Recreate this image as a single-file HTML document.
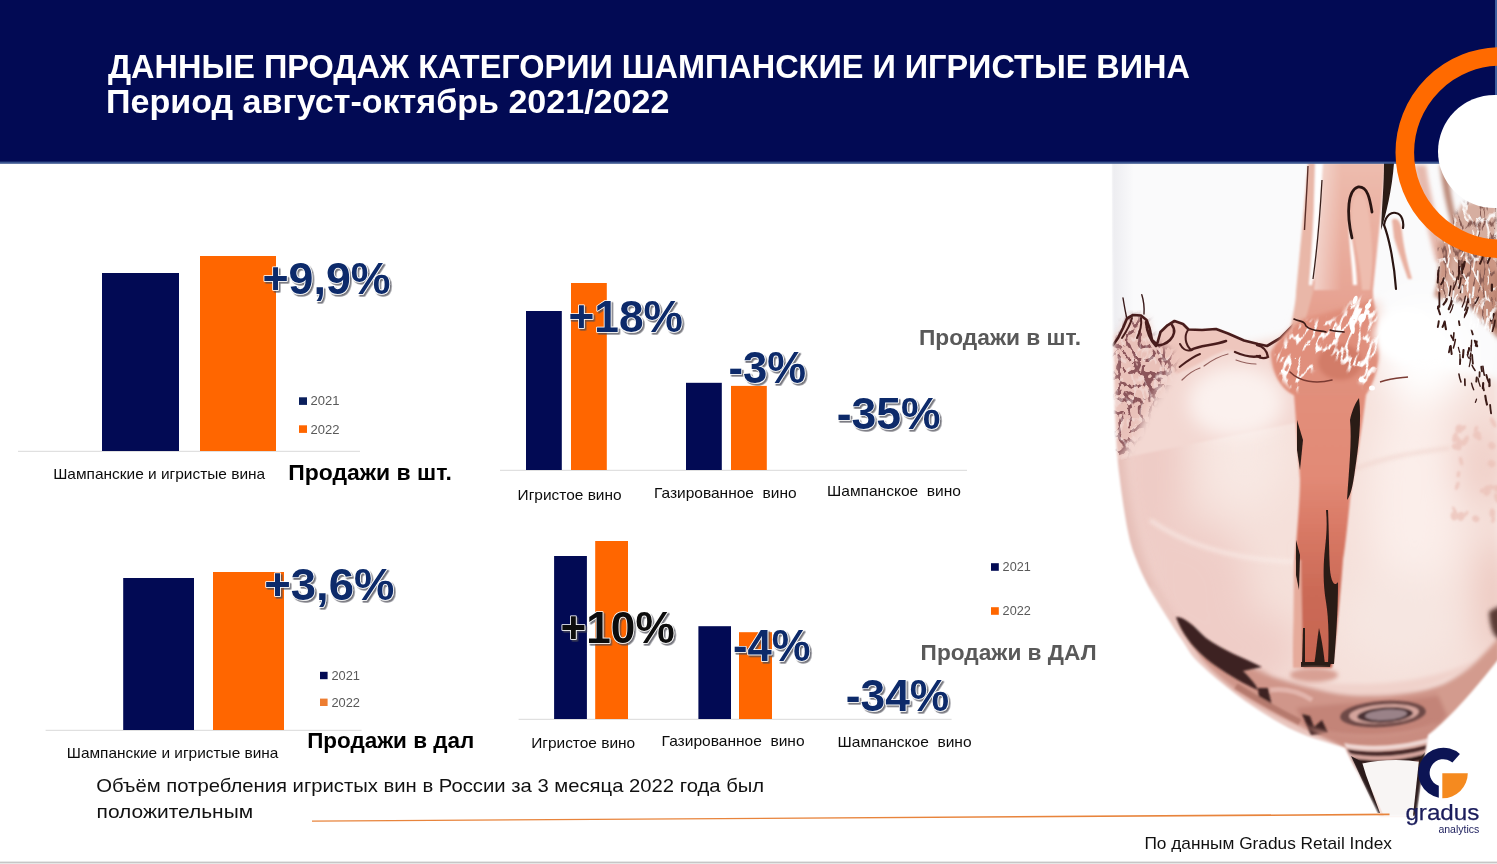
<!DOCTYPE html>
<html lang="ru">
<head>
<meta charset="utf-8">
<title>Данные продаж категории шампанские и игристые вина</title>
<style>
html,body{margin:0;padding:0;background:#fff;}
body{width:1497px;height:864px;overflow:hidden;position:relative;font-family:"Liberation Sans",sans-serif;}
svg{position:absolute;left:0;top:0;display:block;}
text{font-family:"Liberation Sans",sans-serif;}
.b{font-weight:bold;}
.pct{font-weight:bold;font-size:44.5px;fill:#0b2a6b;stroke:#fff;stroke-width:1.6px;paint-order:stroke fill;stroke-linejoin:round;}
.lab{font-size:14.8px;fill:#0c0c0c;white-space:pre;}
.leg{font-size:12.4px;fill:#595959;}
</style>
</head>
<body>
<svg width="1497" height="864" viewBox="0 0 1497 864">
<defs>
  <filter id="sh" x="-10%" y="-20%" width="130%" height="150%">
    <feDropShadow dx="1.6" dy="1.8" stdDeviation="0.7" flood-color="#4a4a55" flood-opacity="0.75"/>
  </filter>
</defs>

<!-- ===== page background ===== -->
<rect x="0" y="0" width="1497" height="864" fill="#ffffff"/>

<!-- ===== GLASS START ===== -->
<g id="glass">
<defs>
  <mask id="gmask" maskUnits="userSpaceOnUse" x="1090" y="140" width="430" height="700"><path d="M1112,163 C1112.2,188.0 1112.5,257.2 1113,300 C1113.5,342.8 1114.2,390.8 1115.3,420 C1116.4,449.2 1117.3,457.0 1119.4,475.5 C1121.5,494.0 1125.0,517.1 1127.8,531 C1130.6,544.9 1132.5,549.7 1136,559 C1139.5,568.3 1143.7,577.5 1148.6,586.7 C1153.5,595.9 1159.5,605.2 1165.3,614.4 C1171.1,623.6 1178.2,634.4 1183.3,642 C1188.4,649.6 1189.4,653.0 1196,660 C1202.6,667.0 1213.3,676.2 1223,684 C1232.7,691.8 1241.8,699.2 1254,707 C1266.2,714.8 1280.8,724.2 1296,731 C1311,738 1330,743 1345,748 L1380,816 L1416,816 L1428,735 C1445,722 1467,698 1485,676 L1497,661 L1510,650 L1510,150 L1112,150 Z" fill="#fff" filter="url(#b1)"/></mask>
  <mask id="mottRm" maskUnits="userSpaceOnUse" x="1420" y="185" width="90" height="180"><path d="M1437,244 L1450,226 L1462,204 L1480,200 L1497,204 L1497,336 L1484,324 L1470,306 L1456,300 L1444,300 L1436,296 L1440,270 Z" fill="#fff" filter="url(#b2)"/></mask>
  <mask id="blobm" maskUnits="userSpaceOnUse" x="1260" y="280" width="140" height="130"><path d="M1276,352 L1290,334 L1304,322 L1340,318 L1352,300 L1372,296 L1380,330 L1378,366 L1366,388 L1350,372 L1330,352 L1310,372 L1296,392 L1282,380 Z" fill="#fff" filter="url(#b2)"/></mask>
  <filter id="turbB" x="0" y="0" width="100%" height="100%" filterUnits="objectBoundingBox">
    <feTurbulence type="turbulence" baseFrequency="0.11 0.04" numOctaves="2" seed="41" result="t"/>
    <feColorMatrix in="t" type="matrix" values="0 0 0 0 1  0 0 0 0 1  0 0 0 0 1  -10 0 0 0 2.1"/>
    <feGaussianBlur stdDeviation="0.5"/>
  </filter>
  <mask id="mottLm" maskUnits="userSpaceOnUse" x="1100" y="300" width="100" height="180"><path d="M1113,345 L1118,338 L1124,326 L1129,317 L1141,316 L1147,321 L1150,332 L1154,343 L1160,346 L1170,352 L1174,362 L1168,378 L1158,392 L1148,408 L1140,424 L1132,440 L1122,456 L1113,462 Z" fill="#fff" filter="url(#b4)"/></mask>
  <filter id="b05" x="-20%" y="-20%" width="140%" height="140%"><feGaussianBlur stdDeviation="0.6"/></filter>
  <filter id="b1" x="-20%" y="-20%" width="140%" height="140%"><feGaussianBlur stdDeviation="1"/></filter>
  <filter id="b2" x="-20%" y="-20%" width="140%" height="140%"><feGaussianBlur stdDeviation="2.2"/></filter>
  <filter id="b4" x="-30%" y="-30%" width="160%" height="160%"><feGaussianBlur stdDeviation="4.5"/></filter>
  <filter id="b8" x="-40%" y="-40%" width="180%" height="180%"><feGaussianBlur stdDeviation="9"/></filter>
  <filter id="b16" x="-50%" y="-50%" width="200%" height="200%"><feGaussianBlur stdDeviation="18"/></filter>
  <filter id="turbL" x="0" y="0" width="100%" height="100%" filterUnits="objectBoundingBox">
    <feTurbulence type="turbulence" baseFrequency="0.1 0.075" numOctaves="2" seed="11" result="t"/>
    <feColorMatrix in="t" type="matrix" values="0 0 0 0 0.26  0 0 0 0 0.09  0 0 0 0 0.10  -13 0 0 0 2.95"/>
    <feGaussianBlur stdDeviation="0.5"/>
  </filter>
  <filter id="turbR" x="0" y="0" width="100%" height="100%" filterUnits="objectBoundingBox">
    <feTurbulence type="turbulence" baseFrequency="0.13 0.04" numOctaves="2" seed="5" result="t"/>
    <feColorMatrix in="t" type="matrix" values="0 0 0 0 0.25  0 0 0 0 0.11  0 0 0 0 0.09  -9 0 0 0 1.7"/>
    <feGaussianBlur stdDeviation="0.5"/>
  </filter>
  <filter id="turbW" x="0" y="0" width="100%" height="100%" filterUnits="objectBoundingBox">
    <feTurbulence type="turbulence" baseFrequency="0.09 0.05" numOctaves="2" seed="23" result="t"/>
    <feColorMatrix in="t" type="matrix" values="0 0 0 0 1  0 0 0 0 1  0 0 0 0 1  -8 0 0 0 1.55"/>
    <feGaussianBlur stdDeviation="0.5"/>
  </filter>
  <linearGradient id="wallL" x1="0" y1="0" x2="1" y2="0"><stop offset="0" stop-color="#ececf0"/><stop offset="1" stop-color="#fafafb"/></linearGradient>
  <linearGradient id="strm" x1="0" y1="0" x2="0" y2="1"><stop offset="0" stop-color="#edbcae"/><stop offset="0.25" stop-color="#e7a595"/><stop offset="0.45" stop-color="#e28f7b"/><stop offset="0.62" stop-color="#e28a76"/><stop offset="0.72" stop-color="#d97a66"/><stop offset="0.85" stop-color="#cb6a56"/><stop offset="1" stop-color="#c66450"/></linearGradient>
  <linearGradient id="strmL" x1="0" y1="0" x2="1" y2="0"><stop offset="0" stop-color="#fff" stop-opacity="0.5"/><stop offset="0.6" stop-color="#fff" stop-opacity="0"/></linearGradient>
</defs>
<g mask="url(#gmask)">
<rect x="1105" y="160" width="400" height="670" fill="#fafafb"/>
<rect x="1112" y="160" width="22" height="180" fill="url(#wallL)"/>
<path d="M1105,335 L1160,340 L1245,344 L1290,335 L1300,310 L1380,300 L1400,360 L1500,380 L1500,830 L1105,830 Z" fill="#f5e0da" filter="url(#b4)"/>
<g filter="url(#b16)">
<ellipse cx="1150" cy="470" rx="34" ry="110" fill="#eecbc5"/>
<ellipse cx="1190" cy="590" rx="60" ry="70" fill="#efcdc7"/>
<ellipse cx="1240" cy="650" rx="60" ry="40" fill="#efcdc7"/>
<ellipse cx="1245" cy="450" rx="40" ry="60" fill="#f8e8e3"/>
<ellipse cx="1415" cy="500" rx="45" ry="120" fill="#fbeeea"/>
<ellipse cx="1425" cy="350" rx="50" ry="50" fill="#ffffff"/>
<ellipse cx="1496" cy="600" rx="16" ry="60" fill="#ebc3ba"/>
<ellipse cx="1480" cy="465" rx="26" ry="40" fill="#f0cfc7"/>
<ellipse cx="1400" cy="620" rx="60" ry="50" fill="#f6e6e1"/>
</g>
<path d="M1113,340 C1113,380 1115,420 1119,470 C1124,515 1134,555 1148,586 C1162,612 1180,640 1196,660 C1205,670 1214,678 1224,685" fill="none" stroke="#e6bfb8" stroke-width="14" filter="url(#b4)"/>
<path d="M1150,520 C1190,548 1240,560 1296,562" fill="none" stroke="#fbf0ec" stroke-width="3" filter="url(#b2)" opacity="0.8"/>
<path d="M1352,470 C1390,455 1420,452 1450,448" fill="none" stroke="#efd2cb" stroke-width="3" filter="url(#b2)" opacity="0.8"/>
<g filter="url(#b2)">
<path d="M1176,616 C1200,645 1235,664 1262,670 C1290,682 1320,692 1350,695 C1380,697 1420,694 1444,684 C1468,672 1486,654 1500,640 L1500,770 L1340,770 C1290,745 1215,705 1176,616 Z" fill="#d0968a"/>
<path d="M1250,668 C1290,684 1330,696 1380,695 C1420,693 1455,680 1480,658 C1445,676 1400,684 1360,684 C1320,684 1290,680 1250,668 Z" fill="#f0d2cb"/>
<path d="M1296,708 C1340,702 1420,702 1468,690 L1440,724 C1400,738 1340,738 1306,728 Z" fill="#c38478"/>
<path d="M1436,690 C1458,680 1478,662 1500,636 L1500,700 L1450,722 Z" fill="#d39b8e"/>
<path d="M1489,612 C1494,608 1500,606 1502,606 L1502,640 C1496,640 1490,632 1489,612 Z" fill="#5a3a34"/>
</g>
<path d="M1150,588 C1166,616 1184,642 1198,661 C1210,674 1222,684 1232,692 C1256,710 1298,732 1347,749" fill="none" stroke="#eccbc4" stroke-width="7" filter="url(#b2)"/>
<g filter="url(#b1)">
<path d="M1176,617 C1184,616 1194,626 1206,638 C1222,650 1244,658 1262,667 L1243,671 C1250,678 1256,684 1258,690 C1240,682 1212,666 1197,650 C1187,640 1180,628 1176,617 Z" fill="#3c2321"/>
<path d="M1258,688 L1268,688 L1272,706 L1259,700 Z" fill="#3c2321"/>
<path d="M1302,714 L1310,716 L1314,727 L1322,720 L1328,733 L1311,735 Z" fill="#3c2321"/>
<path d="M1236,686 C1262,702 1280,712 1300,722" fill="none" stroke="#b5796d" stroke-width="6"/>
<path d="M1270,690 C1285,688 1300,692 1312,700" fill="none" stroke="#e2b4ab" stroke-width="5"/>
</g>
<g filter="url(#b1)" transform="rotate(-4 1383 714)">
<ellipse cx="1383" cy="714" rx="43" ry="13" fill="#6e4846"/>
<ellipse cx="1384" cy="714" rx="35" ry="9.5" fill="#d4a49c"/>
<ellipse cx="1385" cy="715" rx="28" ry="7.5" fill="#4a3236"/>
<ellipse cx="1386" cy="715" rx="21" ry="5.2" fill="#9a8288"/>
</g>
<path d="M1300,724 C1340,740 1400,742 1436,722 L1430,748 L1345,748 Z" fill="#c98c80" filter="url(#b2)"/>
<g filter="url(#b1)">
<path d="M1344,743 C1370,748 1400,746 1429,738 L1428,743 C1400,751 1370,752 1346,748 Z" fill="#eed6d2"/>
<path d="M1347,749 C1372,754 1400,752 1427,745 L1426,750 C1400,757 1374,758 1350,754 Z" fill="#4a2c2c"/>
<path d="M1350,754 C1374,759 1400,757 1426,750 L1425,754 C1400,760 1376,761 1352,758 Z" fill="#d9a9a2"/>
<path d="M1352,758 C1376,762 1400,761 1425,754 L1424,760 C1400,765 1380,766 1355,763 Z" fill="#2a1818"/>
</g>
<path d="M1360,764 C1380,759 1405,759 1420,762 L1413,816 L1384,816 Z" fill="#f8f5f4"/>
<path d="M1346,748 L1352,756 L1379,813 L1376,813 Z" fill="#cfb0ae" filter="url(#b1)"/>
<path d="M1351,756 L1362,762 L1366,775 L1380,813 L1377,813 Z" fill="#2a1a1a"/>
<path d="M1419,760 L1425,752 L1417,816 L1413,816 Z" fill="#2f1e1e"/>
<path d="M1113,345 L1118,338 L1123,328 L1127,318.5 L1133,315 L1141,315.5 L1146.5,320 L1149.5,328 L1152,340 L1157,344.5 L1160.5,332 L1167.5,325.3 L1174.5,321 L1183,324 L1188.5,329.5 L1202,330 L1216,329 L1228,333.5 L1244,340.5 L1258,344 L1267,346 L1280.5,338 L1294.5,324 L1299,315 L1310,330 L1310,420 L1113,460 Z" fill="#f3d8d2" filter="url(#b1)"/>
<ellipse cx="1236" cy="402" rx="48" ry="36" fill="#fbf1ee" filter="url(#b8)"/>
<path d="M1157,345 L1160.5,332 L1167.5,325.3 L1174.5,321 L1183,324 L1188.5,329.5 L1202,330 L1216,329 L1228,333.5 L1244,340.5 L1267,346 L1270,356 L1256,358 L1240,352 L1226,350 L1212,356 L1198,364 L1186,370 L1176,374 L1166,360 Z" fill="#eec6bd" filter="url(#b1)"/>
<g mask="url(#mottLm)">
<rect x="1110" y="310" width="75" height="150" fill="#e9c1b9"/>
<rect x="1110" y="310" width="75" height="150" filter="url(#turbL)"/>
<rect x="1110" y="310" width="75" height="150" filter="url(#turbW)" opacity="0.3"/>
</g>
<path d="M1113,345 L1118,338 L1123,328 L1127,318.5 L1133,315 L1141,315.5 L1146.5,320 L1149.5,328 L1152,340 L1157,344.5 L1160.5,332 L1167.5,325.3 L1174.5,321 L1183,324 L1188.5,329.5 L1202,330 L1216,329 L1228,333.5 L1244,340.5 L1258,344 L1267,346 L1280.5,338 L1294.5,324 L1299,315" fill="none" stroke="#4a1f1e" stroke-width="2.7" stroke-linejoin="round" stroke-linecap="round" filter="url(#b05)"/>
<path d="M1126.5,317 C1125,310 1124,304 1123,298 M1144,314 C1144.5,306 1143.5,300 1141.8,294.7" stroke="#3a1a1a" stroke-width="1.4" fill="none" stroke-linecap="round"/>
<g stroke="#4a1f1e" stroke-width="2" fill="none" stroke-linecap="round" filter="url(#b05)">
<path d="M1188,330 C1184,336 1185,344 1191,350 C1186,352 1182,348 1180,344"/>
<path d="M1191,350 C1200,345 1212,346 1226,341" stroke-width="2.6"/>
<path d="M1179.6,367 C1186,362 1192,357 1200,354"/>
<path d="M1235,352 C1244,356 1252,358 1260,356" stroke-width="2.4"/>
<path d="M1257,345 C1262,346 1267,350 1268,357 C1264,359 1260,358 1257,356" stroke-width="2.4"/>
<path d="M1172,325 C1176,330 1174,336 1170,340 C1166,344 1160,346 1157,345" stroke-width="2.6"/>
<path d="M1132,318 C1130,326 1126,332 1122,338"/>
<path d="M1141,318 C1142,326 1140,332 1137,338"/>
<path d="M1146,322 C1147,332 1150,340 1156,346" stroke-width="2.6"/>
</g>
<g stroke="#7a3f3c" stroke-width="1.2" fill="none" stroke-linecap="round" filter="url(#b05)" opacity="0.8">
<path d="M1204,366 C1212,360 1220,356 1228,354"/>
<path d="M1182,380 C1188,374 1194,370 1200,368"/>
<path d="M1236,360 C1244,363 1250,364 1256,364"/>
</g>
<g filter="url(#b1)">
<path d="M1323,163 L1385,163 C1383,200 1377,250 1373,290 C1373,310 1378,330 1378,350 C1378,372 1370,388 1366,395 C1362,430 1356,462 1351,490 C1348,520 1345,550 1343,560 C1340,600 1336,640 1332,668 L1293,668 C1294,620 1295,590 1295,560 C1297,530 1300,500 1300,480 C1298,450 1296,420 1294,395 C1280,388 1272,372 1272,352 C1280,338 1292,326 1300,318 C1306,300 1310,290 1314,279 C1318,240 1321,200 1323,163 Z" fill="url(#strm)"/>
<path d="M1323,163 L1360,163 L1352,290 L1314,290 C1318,240 1321,200 1323,163 Z" fill="url(#strmL)"/>
<path d="M1294,560 L1301,560 L1303,668 L1293,668 Z" fill="#e6ab9b"/>
<path d="M1308,163 L1315,163 C1314,200 1313,250 1313,292 L1306,318 L1290,332 C1294,310 1296,300 1296,292 C1300,250 1305,200 1308,163 Z" fill="#e9b7a8"/>
<path d="M1316,165 L1322,165 C1320,200 1316,250 1312,285 L1309,285 C1312,250 1315,200 1316,165 Z" fill="#ffffff"/>
</g>
<g filter="url(#b2)">
<path d="M1271,352 C1278,340 1292,326 1302,320 L1372,300 C1380,320 1382,345 1376,370 C1372,385 1366,392 1360,394 L1296,394 C1282,388 1272,372 1271,352 Z" fill="#e08f7b"/>
<ellipse cx="1340" cy="362" rx="22" ry="18" fill="#d27c68"/>
</g>
<g mask="url(#blobm)">
<rect x="1240" y="270" width="170" height="150" filter="url(#turbB)" transform="rotate(22 1325 345)"/>
</g>
<g fill="#ffffff" filter="url(#b05)">
<ellipse cx="1338" cy="332" rx="2.5" ry="7.0" transform="rotate(15 1338 332)"/>
<ellipse cx="1352" cy="326" rx="2.5" ry="8.0" transform="rotate(-10 1352 326)"/>
<ellipse cx="1362" cy="318" rx="3.5" ry="4.5" transform="rotate(30 1362 318)"/>
<ellipse cx="1368" cy="306" rx="2.5" ry="3.5" transform="rotate(40 1368 306)"/>
<ellipse cx="1362" cy="380" rx="3.5" ry="2.5" transform="rotate(20 1362 380)"/>
<ellipse cx="1372" cy="388" rx="3.0" ry="2.5" transform="rotate(0 1372 388)"/>
<ellipse cx="1284" cy="372" rx="3.5" ry="1.75" transform="rotate(30 1284 372)"/>
<ellipse cx="1355" cy="300" rx="2.0" ry="4.5" transform="rotate(20 1355 300)"/>
</g>
<path d="M1294,319 C1300,322 1304,320 1306,326 C1312,332 1320,330 1326,332 M1330,330 C1336,332 1340,331 1344,332" fill="none" stroke="#3a1a18" stroke-width="1.6" stroke-linecap="round" filter="url(#b05)"/>
<path d="M1290,372 C1300,382 1316,384 1332,380" fill="none" stroke="#7a3a32" stroke-width="1.6" stroke-linecap="round" filter="url(#b05)"/>
<ellipse cx="1405" cy="335" rx="32" ry="26" fill="#ffffff" filter="url(#b4)"/>
<path d="M1380,382 C1392,378 1400,378 1408,377" fill="none" stroke="#7a3a32" stroke-width="1.4" filter="url(#b05)"/>
<g filter="url(#b05)" fill="#2c1a17">
<path d="M1384,163 L1394,163 C1392,190 1386,215 1381,230 C1382,205 1384,185 1384,163 Z"/>
<path d="M1359,398 C1362,420 1358,450 1355,470 C1353,485 1351,495 1347,500 C1349,470 1352,440 1350,420 C1352,410 1356,402 1359,398 Z"/>
<path d="M1297,420 L1303,440 L1300,470 L1297,450 Z"/>
<path d="M1296,540 L1300,555 L1299,590 L1296,575 Z"/>
<path d="M1326,510 C1328,530 1325,545 1324,560 C1323,575 1324,590 1326,602 C1329,620 1329,645 1328,664 L1334,664 C1336,640 1338,610 1338,582 C1334,588 1331,580 1330,570 C1329,555 1329,530 1328,510 Z"/>
<path d="M1303,628 L1305,628 L1305,664 L1302,664 Z"/>
<path d="M1319,628 C1322,640 1324,655 1325,665 L1314,665 C1316,655 1317,640 1319,628 Z"/>
<path d="M1301,662 L1331,662 L1330,667 L1301,667 Z"/>
</g>
<path d="M1322,180 C1320,215 1317,250 1313,279" fill="none" stroke="#3a201c" stroke-width="1.3"/>
<path d="M1308,166 C1307,190 1305.5,210 1304.5,230" fill="none" stroke="#5a2e28" stroke-width="1.4"/>
<path d="M1355,196 C1360,190 1366,196 1368,210 C1372,235 1374,260 1370,290 L1362,290 C1360,260 1354,240 1352,225 C1351,212 1352,202 1355,196 Z" fill="#eebdaf" filter="url(#b1)"/>
<path d="M1349,215 C1350,235 1356,255 1357,285 L1353,285 C1352,260 1348,240 1349,215 Z" fill="#ffffff" filter="url(#b1)"/>
<path d="M1392,220 C1397,216 1401,222 1402,232 C1404,250 1408,265 1412,279 L1408,279 C1404,268 1398,250 1394,238 Z" fill="#e9b0a0" filter="url(#b1)"/>
<g fill="none" stroke="#2a1512" stroke-width="2.2" stroke-linecap="round">
<path d="M1352,238 C1346,212 1348,190 1358,187 C1368,186 1370,200 1372,212" stroke-width="2.8"/>
<path d="M1396,289 C1394,260 1388,235 1384,225 C1386,214 1392,212 1396,213 C1402,214 1404,222 1403,228"/>
</g>
<ellipse cx="1314" cy="675" rx="24" ry="7" fill="#d8a094" filter="url(#b2)"/>
<g filter="url(#b2)">
<path d="M1456,240 C1470,243 1485,250 1500,256 L1500,326 C1488,322 1476,312 1468,300 C1460,288 1456,262 1456,240 Z" fill="#d3a08e"/>
<path d="M1478,262 C1486,266 1492,270 1500,272 L1500,340 C1490,330 1482,305 1478,262 Z" fill="#ad735f"/>
<path d="M1438,244 C1444,243 1450,243 1455,245 C1452,262 1448,280 1440,298 L1434,296 C1440,280 1440,262 1438,244 Z" fill="#cf9c8c"/>
<path d="M1414,165 C1418,190 1428,230 1436,262 L1446,262 C1440,230 1430,195 1426,165 Z" fill="#e6b9ad"/>
<path d="M1440,165 C1442,185 1446,205 1452,226 L1458,224 C1452,204 1449,185 1448,165 Z" fill="#b98573"/>
</g>
<g mask="url(#mottRm)">
<rect x="1425" y="190" width="75" height="155" fill="#c99482" opacity="0.75"/>
<rect x="1425" y="190" width="75" height="155" filter="url(#turbR)"/>
<rect x="1425" y="190" width="75" height="155" filter="url(#turbW)" opacity="0.85"/>
</g>
<g stroke="#3a1a16" fill="none" stroke-linecap="round" filter="url(#b05)">
<path d="M1465.5,296.0 q-0.7,5.5 -3.4,11.0" stroke-width="1.2"/>
<path d="M1459.5,266.8 q-0.2,6.1 -1.2,12.3" stroke-width="1.9"/>
<path d="M1470.5,296.3 q-0.4,3.2 -2.2,6.3" stroke-width="1.4"/>
<path d="M1491.4,250.5 q-0.7,6.2 -3.7,12.4" stroke-width="2.0"/>
<path d="M1457.2,276.8 q-0.8,6.3 -3.9,12.6" stroke-width="1.3"/>
<path d="M1491.9,284.7 q-0.0,2.9 -0.1,5.8" stroke-width="2.3"/>
<path d="M1443.8,278.2 q-0.5,3.1 -2.7,6.2" stroke-width="1.9"/>
<path d="M1446.8,299.0 q-0.7,2.7 -3.3,5.5" stroke-width="2.2"/>
<path d="M1461.0,277.8 q-0.4,5.2 -2.1,10.4" stroke-width="1.7"/>
<path d="M1495.0,320.2 q-0.5,5.5 -2.6,11.0" stroke-width="1.6"/>
<path d="M1478.4,297.2 q-0.6,3.0 -3.1,6.0" stroke-width="1.6"/>
<path d="M1467.7,307.6 q-0.8,4.8 -3.9,9.5" stroke-width="2.2"/>
<path d="M1462.8,285.4 q-0.5,3.5 -2.3,7.0" stroke-width="1.7"/>
<path d="M1483.3,253.8 q-0.7,5.0 -3.3,9.9" stroke-width="2.0"/>
<path d="M1439.2,267.0 q-0.3,4.0 -1.5,8.1" stroke-width="1.3"/>
<path d="M1464.6,261.9 q-0.4,3.8 -2.1,7.5" stroke-width="2.4"/>
<path d="M1458.9,260.4 q-0.1,5.9 -0.4,11.7" stroke-width="1.2"/>
<path d="M1453.1,304.6 q-0.6,4.0 -3.0,8.1" stroke-width="1.2"/>
<path d="M1439.4,293.0 q-0.0,6.9 -0.0,13.9" stroke-width="1.8"/>
<path d="M1438.4,270.5 q-0.1,6.0 -0.7,12.1" stroke-width="2.0"/>
<path d="M1450.8,286.1 q-0.3,4.6 -1.5,9.3" stroke-width="1.5"/>
<path d="M1493.8,314.0 q-0.6,3.2 -2.8,6.5" stroke-width="2.2"/>
<path d="M1467.9,298.9 q-0.6,5.7 -3.1,11.3" stroke-width="1.5"/>
<path d="M1452.3,297.9 q-0.7,5.6 -3.5,11.2" stroke-width="2.3"/>
<path d="M1462.2,264.3 q-0.0,4.5 -0.1,8.9" stroke-width="1.9"/>
<path d="M1489.4,380.0 q-0.1,3.2 -0.3,6.5" stroke-width="1.5"/>
<path d="M1486.3,374.9 q0.8,3.6 2.5,7.3" stroke-width="2.0"/>
<path d="M1483.2,383.1 q-0.1,2.6 -0.4,5.1" stroke-width="2.1"/>
<path d="M1483.2,386.6 q0.2,1.9 0.7,3.7" stroke-width="1.9"/>
<path d="M1458.4,347.5 q0.4,2.5 1.4,4.9" stroke-width="1.3"/>
<path d="M1444.7,321.6 q0.4,3.8 1.3,7.6" stroke-width="2.1"/>
<path d="M1450.0,346.6 q-0.3,2.8 -1.1,5.7" stroke-width="1.8"/>
<path d="M1455.4,339.4 q-0.6,4.3 -2.0,8.7" stroke-width="1.5"/>
<path d="M1451.0,335.4 q0.8,2.2 2.6,4.3" stroke-width="1.7"/>
<path d="M1471.5,383.2 q0.7,3.3 2.2,6.6" stroke-width="1.4"/>
<path d="M1481.3,366.8 q0.2,2.2 0.7,4.4" stroke-width="1.9"/>
<path d="M1472.1,354.8 q0.2,4.4 0.8,8.8" stroke-width="1.8"/>
<path d="M1471.6,340.2 q-0.1,3.0 -0.2,6.0" stroke-width="1.4"/>
<path d="M1444.3,322.5 q-0.5,2.3 -1.8,4.5" stroke-width="2.0"/>
<path d="M1474.8,340.8 q0.7,2.7 2.4,5.3" stroke-width="2.1"/>
<path d="M1450.7,345.9 q0.3,4.0 1.0,8.1" stroke-width="2.0"/>
<path d="M1471.2,345.6 q-0.0,2.7 -0.1,5.4" stroke-width="1.5"/>
<path d="M1476.6,341.5 q-0.2,2.1 -0.7,4.2" stroke-width="2.2"/>
<path d="M1458.9,373.9 q0.6,4.1 2.1,8.2" stroke-width="1.5"/>
<path d="M1478.0,378.1 q0.6,4.1 2.2,8.2" stroke-width="1.3"/>
<path d="M1476.5,399.2 q-0.3,1.5 -1.1,3.1" stroke-width="1.3"/>
<path d="M1476.7,377.5 q-0.1,2.1 -0.4,4.1" stroke-width="2.0"/>
<path d="M1464.8,379.1 q0.1,3.1 0.2,6.2" stroke-width="1.7"/>
<path d="M1489.5,379.1 q0.1,3.4 0.3,6.8" stroke-width="1.8"/>
<path d="M1463.5,350.0 q-0.2,3.6 -0.6,7.3" stroke-width="2.1"/>
<path d="M1482.9,366.4 q0.4,4.4 1.4,8.7" stroke-width="1.6"/>
<path d="M1470.6,358.6 q-0.4,4.0 -1.4,8.0" stroke-width="1.2"/>
<path d="M1438.3,305.7 q-0.2,1.5 -0.8,3.1" stroke-width="1.2"/>
<path d="M1485.3,395.8 q0.5,4.4 1.7,8.8" stroke-width="2.1"/>
<path d="M1438.8,321.1 q-0.3,2.9 -1.0,5.9" stroke-width="1.9"/>
<path d="M1469.4,348.3 q-0.5,2.2 -1.6,4.5" stroke-width="1.8"/>
<path d="M1490.1,404.9 q0.3,4.3 1.0,8.5" stroke-width="1.8"/>
<path d="M1438.0,306.9 q0.6,3.7 2.1,7.4" stroke-width="1.9"/>
<path d="M1459.9,354.2 q0.1,4.5 0.4,8.9" stroke-width="1.3"/>
<path d="M1479.6,372.1 q-0.0,2.2 -0.1,4.4" stroke-width="1.8"/>
<path d="M1453.9,332.9 q-0.2,3.7 -0.7,7.5" stroke-width="1.6"/>
<path d="M1458.9,321.2 q0.2,2.0 0.7,4.0" stroke-width="1.8"/>
<path d="M1472.1,365.3 q0.9,2.6 3.0,5.1" stroke-width="1.5"/>
<path d="M1470.8,353.1 q-0.3,2.7 -1.0,5.4" stroke-width="1.5"/>
<path d="M1460.3,359.4 q-0.1,2.4 -0.3,4.8" stroke-width="1.8"/>
<path d="M1467.2,354.6 q0.4,1.7 1.4,3.4" stroke-width="1.2"/>
<path d="M1468.9,347.7 q-0.3,3.5 -1.1,7.0" stroke-width="1.6"/>
<path d="M1471.6,330.2 q0.4,2.1 1.2,4.2" stroke-width="1.8"/>
</g>
<g stroke="#ffffff" fill="none" stroke-linecap="round" filter="url(#b05)" opacity="0.9">
<path d="M1473.6,287.3 q-0.2,4.9 -1.2,9.8" stroke-width="2.1"/>
<path d="M1462.3,286.2 q-0.0,3.1 -0.1,6.2" stroke-width="1.9"/>
<path d="M1453.6,291.1 q-0.2,4.2 -1.0,8.4" stroke-width="1.8"/>
<path d="M1475.1,306.6 q-0.4,3.1 -1.8,6.1" stroke-width="1.0"/>
<path d="M1490.7,312.8 q0.2,3.2 0.9,6.3" stroke-width="2.1"/>
<path d="M1448.6,316.6 q-0.3,3.3 -1.7,6.5" stroke-width="1.3"/>
<path d="M1463.6,252.2 q-0.5,2.2 -2.5,4.3" stroke-width="1.4"/>
<path d="M1449.0,258.0 q-0.3,4.5 -1.5,9.0" stroke-width="1.6"/>
<path d="M1474.3,324.5 q-0.4,2.4 -2.1,4.9" stroke-width="2.0"/>
<path d="M1491.9,324.4 q-0.3,3.6 -1.5,7.2" stroke-width="1.2"/>
<path d="M1491.9,310.8 q0.0,3.7 0.2,7.3" stroke-width="1.3"/>
<path d="M1470.4,322.3 q-0.1,2.3 -0.5,4.7" stroke-width="1.2"/>
<path d="M1487.8,316.8 q-0.3,3.9 -1.3,7.9" stroke-width="1.0"/>
<path d="M1468.2,277.5 q-0.5,3.2 -2.7,6.4" stroke-width="2.1"/>
<path d="M1469.8,294.1 q0.1,4.5 0.6,9.1" stroke-width="1.7"/>
<path d="M1471.0,317.5 q0.1,3.1 0.6,6.2" stroke-width="1.0"/>
<path d="M1485.4,291.3 q0.2,3.9 1.0,7.7" stroke-width="1.3"/>
<path d="M1463.2,313.6 q-0.2,4.2 -0.9,8.5" stroke-width="1.9"/>
<path d="M1478.6,319.3 q-0.3,4.0 -1.5,7.9" stroke-width="1.3"/>
<path d="M1444.7,258.1 q0.2,2.1 0.9,4.3" stroke-width="1.2"/>
<path d="M1474.4,259.0 q-0.2,4.9 -0.9,9.8" stroke-width="1.2"/>
<path d="M1487.1,318.5 q-0.4,4.9 -2.1,9.9" stroke-width="1.5"/>
<path d="M1477.7,271.2 q-0.0,3.7 -0.2,7.4" stroke-width="1.9"/>
<path d="M1487.0,309.6 q0.0,2.9 0.0,5.7" stroke-width="1.5"/>
<path d="M1449.7,249.7 q-0.3,3.9 -1.6,7.7" stroke-width="1.1"/>
<path d="M1467.9,282.0 q-0.1,3.0 -0.7,6.0" stroke-width="1.6"/>
</g>
<g fill="#ecc3ba" filter="url(#b1)" opacity="0.8">
<ellipse cx="1475.8" cy="518.7" rx="3.8" ry="3.2" transform="rotate(30 1475.8 518.7)"/>
<ellipse cx="1466.2" cy="513.7" rx="1.6" ry="3.3" transform="rotate(35 1466.2 513.7)"/>
<ellipse cx="1481.8" cy="490.6" rx="2.0" ry="2.5" transform="rotate(37 1481.8 490.6)"/>
<ellipse cx="1455.0" cy="437.5" rx="2.6" ry="5.3" transform="rotate(14 1455.0 437.5)"/>
<ellipse cx="1496.9" cy="497.9" rx="2.6" ry="5.6" transform="rotate(-15 1496.9 497.9)"/>
<ellipse cx="1454.3" cy="515.9" rx="3.7" ry="4.6" transform="rotate(-2 1454.3 515.9)"/>
<ellipse cx="1461.2" cy="441.9" rx="1.7" ry="2.4" transform="rotate(-2 1461.2 441.9)"/>
<ellipse cx="1492.3" cy="513.2" rx="2.8" ry="4.7" transform="rotate(-3 1492.3 513.2)"/>
<ellipse cx="1486.9" cy="490.6" rx="4.0" ry="5.4" transform="rotate(14 1486.9 490.6)"/>
<ellipse cx="1478.6" cy="436.9" rx="2.7" ry="3.8" transform="rotate(-28 1478.6 436.9)"/>
<ellipse cx="1461.1" cy="461.1" rx="1.9" ry="4.5" transform="rotate(-14 1461.1 461.1)"/>
<ellipse cx="1496.5" cy="488.4" rx="2.8" ry="3.7" transform="rotate(-9 1496.5 488.4)"/>
<ellipse cx="1461.0" cy="516.3" rx="3.8" ry="4.6" transform="rotate(12 1461.0 516.3)"/>
<ellipse cx="1458.5" cy="474.2" rx="1.9" ry="3.3" transform="rotate(7 1458.5 474.2)"/>
<ellipse cx="1459.7" cy="443.3" rx="3.3" ry="3.9" transform="rotate(31 1459.7 443.3)"/>
<ellipse cx="1459.2" cy="428.9" rx="3.8" ry="4.4" transform="rotate(15 1459.2 428.9)"/>
<ellipse cx="1477.0" cy="434.9" rx="3.9" ry="4.0" transform="rotate(33 1477.0 434.9)"/>
<ellipse cx="1458.6" cy="447.5" rx="2.9" ry="3.0" transform="rotate(29 1458.6 447.5)"/>
<ellipse cx="1463.7" cy="427.9" rx="1.9" ry="3.1" transform="rotate(36 1463.7 427.9)"/>
<ellipse cx="1491.5" cy="487.0" rx="2.6" ry="2.2" transform="rotate(27 1491.5 487.0)"/>
<ellipse cx="1457.7" cy="440.0" rx="2.6" ry="5.4" transform="rotate(-25 1457.7 440.0)"/>
<ellipse cx="1454.8" cy="510.7" rx="1.5" ry="4.9" transform="rotate(-29 1454.8 510.7)"/>
<ellipse cx="1465.5" cy="440.8" rx="2.6" ry="5.7" transform="rotate(27 1465.5 440.8)"/>
<ellipse cx="1476.1" cy="428.8" rx="1.9" ry="3.2" transform="rotate(24 1476.1 428.8)"/>
<ellipse cx="1493.2" cy="422.5" rx="2.3" ry="5.8" transform="rotate(-28 1493.2 422.5)"/>
<ellipse cx="1455.6" cy="446.6" rx="3.7" ry="3.1" transform="rotate(18 1455.6 446.6)"/>
<ellipse cx="1457.3" cy="485.8" rx="1.9" ry="4.4" transform="rotate(19 1457.3 485.8)"/>
<ellipse cx="1491.5" cy="463.6" rx="4.0" ry="3.6" transform="rotate(36 1491.5 463.6)"/>
<ellipse cx="1493.1" cy="519.9" rx="1.8" ry="3.1" transform="rotate(16 1493.1 519.9)"/>
<ellipse cx="1491.8" cy="445.7" rx="3.4" ry="3.9" transform="rotate(-40 1491.8 445.7)"/>
</g>
</g>
</g>
<!-- ===== GLASS END ===== -->

<!-- ===== header ===== -->
<rect x="0" y="0" width="1497" height="162" fill="#020a54"/>
<rect x="0" y="161.6" width="1497" height="2.2" fill="#3b5590"/>
<rect x="1495" y="0" width="2" height="100" fill="#3f5f9f"/>
<text class="b" x="108" y="77.5" font-size="33.9" fill="#fff" textLength="1082" lengthAdjust="spacingAndGlyphs">ДАННЫЕ ПРОДАЖ КАТЕГОРИИ ШАМПАНСКИЕ И ИГРИСТЫЕ ВИНА</text>
<text class="b" x="106" y="113.3" font-size="33.9" fill="#fff" textLength="563.4" lengthAdjust="spacingAndGlyphs">Период август-октябрь 2021/2022</text>

<!-- ===== ring (top right) ===== -->
<circle cx="1494.5" cy="151.5" r="56.5" fill="#ffffff"/>
<circle cx="1501" cy="152.6" r="96.2" fill="none" stroke="#ff6a00" stroke-width="18.6"/>

<!-- ===== chart 1 (top-left) ===== -->
<g id="c1">
  <rect x="18" y="450.8" width="342" height="1" fill="#d9d9d9"/>
  <rect x="102" y="273" width="77" height="178" fill="#020a54"/>
  <rect x="200" y="256" width="76" height="195" fill="#ff6600"/>
  <rect x="299" y="397.3" width="8" height="7.6" fill="#0a1f5c"/>
  <text class="leg" x="310.4" y="405" textLength="29" lengthAdjust="spacingAndGlyphs">2021</text>
  <rect x="299" y="425.3" width="8" height="7.6" fill="#ff6600"/>
  <text class="leg" x="310.4" y="434" textLength="29" lengthAdjust="spacingAndGlyphs">2022</text>
  <text class="lab" x="53.2" y="479.2" textLength="212" lengthAdjust="spacingAndGlyphs">Шампанские и игристые вина</text>
  <text class="b" x="288.2" y="480" font-size="21.4" fill="#000" textLength="163.6" lengthAdjust="spacingAndGlyphs">Продажи в шт.</text>
  <text class="pct" filter="url(#sh)" x="262.5" y="294.2" textLength="128" lengthAdjust="spacingAndGlyphs">+9,9%</text>
</g>

<!-- ===== chart 2 (top-middle) ===== -->
<g id="c2">
  <rect x="500" y="469.8" width="467" height="1" fill="#d9d9d9"/>
  <rect x="526" y="311" width="35.8" height="159" fill="#020a54"/>
  <rect x="571" y="283" width="35.8" height="187" fill="#ff6600"/>
  <rect x="686" y="382.8" width="35.8" height="87.2" fill="#020a54"/>
  <rect x="731" y="385.9" width="35.8" height="84.1" fill="#ff6600"/>
  <text class="lab" x="517.6" y="499.7" textLength="104" lengthAdjust="spacingAndGlyphs">Игристое вино</text>
  <text class="lab" x="654" y="498.4" textLength="142.6" lengthAdjust="spacingAndGlyphs">Газированное  вино</text>
  <text class="lab" x="827" y="495.9" textLength="134" lengthAdjust="spacingAndGlyphs">Шампанское  вино</text>
  <text class="pct" filter="url(#sh)" x="568.5" y="332" textLength="114.5" lengthAdjust="spacingAndGlyphs">+18%</text>
  <text class="pct" filter="url(#sh)" x="728.5" y="382.5" textLength="77.5" lengthAdjust="spacingAndGlyphs">-3%</text>
  <text class="pct" filter="url(#sh)" x="836.8" y="428.6" textLength="103.8" lengthAdjust="spacingAndGlyphs">-35%</text>
  <text class="b" x="919" y="344.5" font-size="21.6" fill="#595959" textLength="162" lengthAdjust="spacingAndGlyphs">Продажи в шт.</text>
</g>

<!-- ===== chart 3 (bottom-left) ===== -->
<g id="c3">
  <rect x="45.6" y="729.8" width="316" height="1" fill="#d9d9d9"/>
  <rect x="123.2" y="578" width="70.8" height="152" fill="#020a54"/>
  <rect x="213" y="572" width="71" height="158" fill="#ff6600"/>
  <rect x="320" y="671.8" width="7.6" height="7.4" fill="#020a54"/>
  <text class="leg" x="331.4" y="680.3" textLength="28.6" lengthAdjust="spacingAndGlyphs">2021</text>
  <rect x="320" y="698.6" width="7.6" height="7.4" fill="#ed7d31"/>
  <text class="leg" x="331.4" y="707" textLength="28.6" lengthAdjust="spacingAndGlyphs">2022</text>
  <text class="lab" x="66.8" y="757.8" textLength="211.6" lengthAdjust="spacingAndGlyphs">Шампанские и игристые вина</text>
  <text class="b" x="307.2" y="748.4" font-size="21.4" fill="#000" textLength="167" lengthAdjust="spacingAndGlyphs">Продажи в дал</text>
  <text class="pct" filter="url(#sh)" x="264.3" y="599.5" textLength="130" lengthAdjust="spacingAndGlyphs">+3,6%</text>
</g>

<!-- ===== chart 4 (bottom-middle) ===== -->
<g id="c4">
  <rect x="518.6" y="718.8" width="433" height="1" fill="#d9d9d9"/>
  <rect x="554.1" y="556" width="32.8" height="163" fill="#020a54"/>
  <rect x="595.2" y="541" width="32.8" height="178" fill="#ff6600"/>
  <rect x="698.4" y="626.2" width="32.6" height="92.8" fill="#020a54"/>
  <rect x="739" y="632.2" width="33" height="86.8" fill="#ff6600"/>
  <text class="lab" x="531.2" y="747.7" textLength="104" lengthAdjust="spacingAndGlyphs">Игристое вино</text>
  <text class="lab" x="661.6" y="745.7" textLength="143" lengthAdjust="spacingAndGlyphs">Газированное  вино</text>
  <text class="lab" x="837.6" y="746.7" textLength="134" lengthAdjust="spacingAndGlyphs">Шампанское  вино</text>
  <text class="pct" filter="url(#sh)" x="560.6" y="643.2" textLength="114" lengthAdjust="spacingAndGlyphs" style="fill:#0a0a0a">+10%</text>
  <text class="pct" filter="url(#sh)" x="733" y="661.2" textLength="77.5" lengthAdjust="spacingAndGlyphs">-4%</text>
  <text class="pct" filter="url(#sh)" x="845.8" y="711.2" textLength="103.5" lengthAdjust="spacingAndGlyphs">-34%</text>
  <rect x="991" y="563.2" width="7.8" height="7.6" fill="#020a54"/>
  <text class="leg" x="1002.6" y="570.8" textLength="28.2" lengthAdjust="spacingAndGlyphs">2021</text>
  <rect x="991" y="607.2" width="7.8" height="7.6" fill="#ff6600"/>
  <text class="leg" x="1002.6" y="614.8" textLength="28.2" lengthAdjust="spacingAndGlyphs">2022</text>
  <text class="b" x="920.6" y="660.2" font-size="21.8" fill="#595959" textLength="176" lengthAdjust="spacingAndGlyphs">Продажи в ДАЛ</text>
</g>

<!-- ===== bottom texts ===== -->
<g id="bottom">
  <text x="96.2" y="791.7" font-size="18.4" fill="#111" textLength="668" lengthAdjust="spacingAndGlyphs">Объём потребления игристых вин в России за 3 месяца 2022 года был</text>
  <text x="96.6" y="818.4" font-size="18.4" fill="#111" textLength="156.5" lengthAdjust="spacingAndGlyphs">положительным</text>
  <path d="M312 820.6 L1389.5 813.6 L1389.5 815.2 L312 821.8 Z" fill="#e8843c"/>
  <text x="1144.4" y="849" font-size="17" fill="#111" textLength="247.5" lengthAdjust="spacingAndGlyphs">По данным Gradus Retail Index</text>
  <rect x="0" y="861.6" width="1497" height="1.5" fill="#c6c6c6"/>
  <rect x="0" y="863" width="1497" height="1" fill="#e6e6e6"/>
</g>

<!-- ===== logo ===== -->
<g id="logo">
  <path d="M1459.9,753.9 A25.2,25.2 0 1 0 1438.8,797.7 L1438.8,785.8 A13.7,13.7 0 1 1 1452.4,762.6 Z" fill="#0c1454"/>
  <path d="M1442.3,773.2 L1467.8,773.2 A25.4,25.2 0 0 1 1442.3,798.3 Z" fill="#f58a1f"/>
  <text x="1405.4" y="820" font-size="22.4" fill="#1b1d5c" stroke="#1b1d5c" stroke-width="0.25" textLength="74" lengthAdjust="spacingAndGlyphs">gradus</text>
  <text x="1438.4" y="833.3" font-size="10.8" fill="#1b1d5c" textLength="41" lengthAdjust="spacingAndGlyphs">analytics</text>
</g>
</svg>
</body>
</html>
